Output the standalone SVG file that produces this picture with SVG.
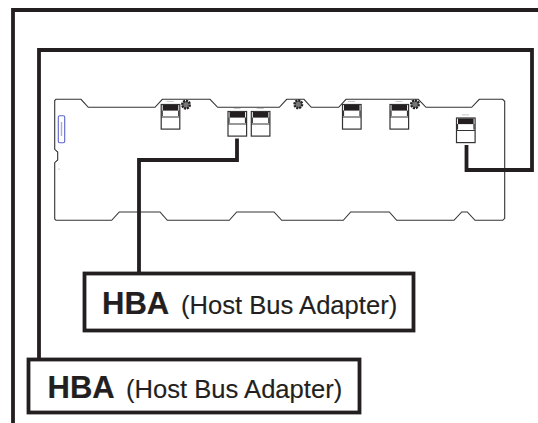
<svg xmlns="http://www.w3.org/2000/svg" width="538" height="423" viewBox="0 0 538 423">
<style>
.frame{fill:none;stroke:#231f20;stroke-width:3.8}
.wire{fill:none;stroke:#231f20;stroke-width:3.8}
.board{fill:none;stroke:#333;stroke-width:1.1}
.box{fill:#fff;stroke:#231f20;stroke-width:3.8}
.b{font:bold 31px "Liberation Sans",Arial,sans-serif;fill:#231f20;stroke:#231f20;stroke-width:0.2}
.r{font:25.6px "Liberation Sans",Arial,sans-serif;fill:#231f20;stroke:#231f20;stroke-width:0.15}
.c{fill:#fff;stroke:#333;stroke-width:1.2}
.bar{fill:#231f20}
.screw{fill:#777;stroke:#231f20;stroke-width:2.4;stroke-dasharray:2 0.9}
</style>
<defs>
<g id="conn">
<rect class="c" x="0.5" y="0.5" width="18.6" height="24.6"/>
<rect class="bar" x="2" y="1" width="15.6" height="5.6"/>
<path d="M1.500 6.600V12M18 6.600V12M0.500 13H19" fill="none" stroke="#333" stroke-width="1.2"/>
<rect x="6" y="-3" width="7" height="0.8" fill="#bbb"/>
</g>
</defs>
<path class="frame" d="M13 423V10H538"/>
<g id="board">
<path class="board" d="M54.7 149.3V100.6L56 99.3H81L88.3 107.3H155L162.3 99.3H210L217.7 107.3H279.3L286.7 99.3H304L311.3 107.3H338.7L346 99.3H418.3L426 107.3H471.7L479.3 99.3H502.7L504.7 101.3V218.3L502.7 220.3H475L467.3 212H461.7L454 220.3H396.7L389.3 212H350.7L343.3 220.3H281.7L274 212H236.7L229.3 220.3H167.3L160 212H119.3L111.7 220.3H56L54.7 219V162.7L57.7 160V152L54.7 149.3Z"/>
<rect x="58.3" y="115.7" width="6.4" height="27" rx="1.5" fill="#fff" stroke="#5c62c9" stroke-width="1.1"/>
<rect x="60.800" y="122" width="1.400" height="14" fill="#a9abdc"/>
<rect x="58.500" y="168.600" width="1" height="1" fill="#999"/>
<circle class="screw" cx="186" cy="104.700" r="3.800"/>
<circle class="screw" cx="298.300" cy="104.300" r="3.800"/>
<circle class="screw" cx="415" cy="104.300" r="3.800"/>
<use href="#conn" x="160.700" y="104"/>
<use href="#conn" x="227.500" y="111"/>
<use href="#conn" x="250.800" y="111"/>
<use href="#conn" x="342" y="104"/>
<use href="#conn" x="389.500" y="104"/>
<use href="#conn" x="456" y="117.500"/>
</g>
<g id="connectors">
<path class="wire" d="M39 358V50H532V170H466.500V145"/>
<path class="wire" d="M139 272V160H237V138.500"/>
</g>
<g id="hba1">
<rect class="box" x="84.500" y="273.500" width="329" height="57"/>
<text class="b" x="102" y="313.500">HBA</text>
<text class="r" x="181" y="313.500">(Host Bus Adapter)</text>
</g>
<g id="hba2">
<rect class="box" x="28.500" y="359.500" width="331" height="53"/>
<text class="b" x="47.500" y="397.500">HBA</text>
<text class="r" x="126" y="397.500">(Host Bus Adapter)</text>
</g>
</svg>
